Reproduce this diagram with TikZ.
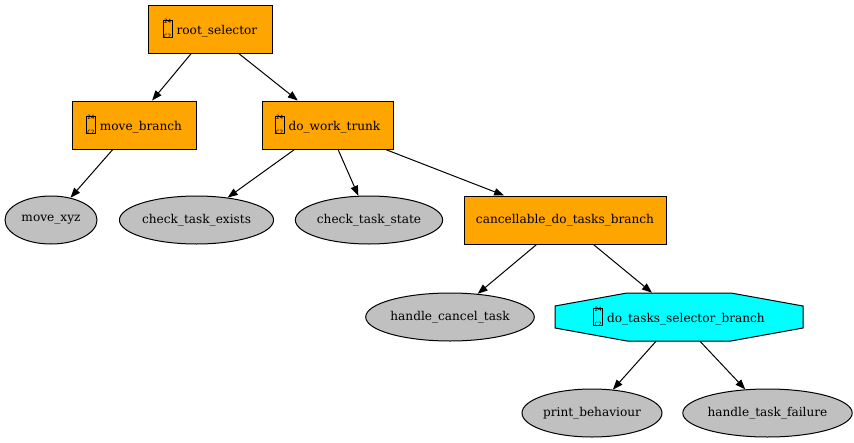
\documentclass[tikz,border=0pt]{standalone}
\usepackage{fontspec}
\setmainfont{DejaVu Serif}
\newfontfamily\hexdigits{DejaVu Sans Mono}
\usetikzlibrary{arrows.meta,calc,shapes.geometric}

\definecolor{boxorange}{HTML}{FFA500}
\definecolor{leafgray}{HTML}{C0C0C0}
\definecolor{selcyan}{HTML}{00FFFF}

% placeholder glyph box (code point 24C2 shown as hex digits)
\newcommand{\tofubox}{\raisebox{-1.9pt}{\setlength{\fboxsep}{0pt}\setlength{\fboxrule}{0.5pt}%
  \fbox{\vbox to 12.2pt{\vss
    \hbox to 6.4pt{\hss\hexdigits\fontsize{4.4}{4.8}\selectfont 24\hss}\vskip0.6pt
    \hbox to 6.4pt{\hss\hexdigits\fontsize{4.4}{4.8}\selectfont C2\hss}\vss}}}\hspace{3pt}}

\tikzset{
  composite/.style={rectangle, draw=black, line width=0.75pt, fill=boxorange,
    inner sep=0pt, minimum height=36pt},
  leaf/.style={ellipse, draw=black, line width=0.75pt, fill=leafgray,
    inner sep=0pt, minimum height=36pt},
  selector/.style={inner sep=0pt, minimum width=186pt, minimum height=36pt},
  link/.style={draw=black, line width=0.75pt, -{Triangle[length=7.5pt,width=5.6pt]}},
}

\begin{document}
\begin{tikzpicture}[x=0.75pt, y=-0.75pt, font=\fontsize{9.1}{10.5}\selectfont]
\useasboundingbox (0,0) rectangle (854,443);

% composite behaviours
\node[composite, minimum width=93pt]    (root) at (210,29)    {\tofubox root\_selector};
\node[composite, minimum width=93pt]    (mb)   at (134,125)   {\tofubox move\_branch};
\node[composite, minimum width=98.25pt] (dwt)  at (327.5,125) {\tofubox do\_work\_trunk};
\node[composite, minimum width=151.5pt] (canc) at (565,220)   {cancellable\_do\_tasks\_branch};

% octagonal selector outline
\coordinate (octc) at (679,317);
\draw[line width=0.75pt, fill=selcyan]
  ($(octc)+(-124,-11)$) -- ($(octc)+(-52,-24)$) -- ($(octc)+(52,-24)$) -- ($(octc)+(124,-11)$)
  -- ($(octc)+(124,11)$) -- ($(octc)+(52,24)$) -- ($(octc)+(-52,24)$) -- ($(octc)+(-124,11)$) -- cycle;
\node[selector] (oct) at (octc) {\tofubox do\_tasks\_selector\_branch};

% leaf behaviours
\node[leaf, minimum width=69pt]     (mxyz) at (51,220)    {move\_xyz};
\node[leaf, minimum width=113.25pt] (cte)  at (196.5,220) {check\_task\_exists};
\node[leaf, minimum width=109.5pt]  (cts)  at (369,220)   {check\_task\_state};
\node[leaf, minimum width=124.5pt]  (hct)  at (450,317)   {handle\_cancel\_task};
\node[leaf, minimum width=105pt]    (pb)   at (592,413)   {print\_behaviour};
\node[leaf, minimum width=123.75pt] (htf)  at (767.5,413) {handle\_task\_failure};

% connectors
\draw[link] ($(root.south west)!0.35!(root.south east)$) -- ($(mb.north west)!0.645!(mb.north east)$);
\draw[link] ($(root.south west)!0.73!(root.south east)$) -- ($(dwt.north west)!0.275!(dwt.north east)$);
\draw[link] ($(mb.south west)!0.33!(mb.south east)$) -- (mxyz);
\draw[link] ($(dwt.south west)!0.25!(dwt.south east)$) -- (cte);
\draw[link] ($(dwt.south west)!0.58!(dwt.south east)$) -- (cts);
\draw[link] ($(dwt.south west)!0.94!(dwt.south east)$) -- ($(canc.north west)!0.20!(canc.north east)$);
\draw[link] ($(canc.south west)!0.36!(canc.south east)$) -- (hct);
\draw[link] ($(canc.south west)!0.64!(canc.south east)$) -- ($(oct.north)+(-27,0)$);
\draw[link] ($(oct.south)+(-23,0)$) -- (pb);
\draw[link] ($(oct.south)+(21,0)$) -- (htf);
\end{tikzpicture}
\end{document}
